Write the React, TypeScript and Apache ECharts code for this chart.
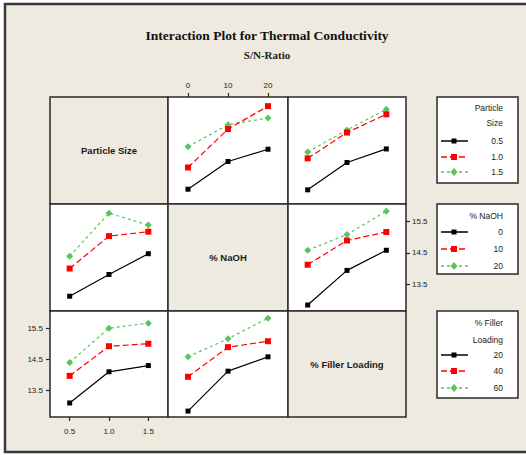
import React, { useEffect, useRef } from "react";
import * as echarts from "echarts";

// Factor levels
const PS_X = [0.5, 1.0, 1.5];
const NAOH_X = [0, 10, 20];
const FILLER_X = [20, 40, 60];
const Y_TICKS = [13.5, 14.5, 15.5];

const FACTOR_NAMES = ["Particle Size", "% NaOH", "% Filler Loading"];
const LEGEND_TITLES = [["Particle", "Size"], ["% NaOH"], ["% Filler", "Loading"]];

// Mean S/N ratios: rows = levels of first factor, cols = levels of second factor
const PS_NAOH = [
  [13.12, 14.0, 14.39],
  [13.81, 15.03, 15.76],
  [14.47, 15.17, 15.38],
];
const PS_FILLER = [
  [13.1, 13.97, 14.4],
  [14.1, 14.92, 15.5],
  [14.3, 15.0, 15.66],
];
const NAOH_FILLER = [
  [12.84, 13.94, 14.58],
  [14.12, 14.89, 15.16],
  [14.58, 15.08, 15.82],
];

const LEVELS = [PS_X, NAOH_X, FILLER_X];
const FMT = [(v: number) => v.toFixed(1), (v: number) => String(v), (v: number) => String(v)];
const X_RANGE = [
  [0.25, 1.75],
  [-5, 25],
  [10, 70],
];
const Y_MIN = 12.65;
const Y_MAX = 16.05;

const MEANS: Record<string, number[][]> = {
  "0-1": PS_NAOH,
  "0-2": PS_FILLER,
  "1-2": NAOH_FILLER,
};

const BEIGE = "#EEEAE0";
const DARK = "#2a2a2a";

const STYLES = [
  { color: "#000000", type: "solid" as any, symbol: "rect", size: 5, width: 1.2 },
  { color: "#FF0000", type: [6, 3] as any, symbol: "rect", size: 6, width: 1.2 },
  { color: "#5DC45D", type: [3, 3] as any, symbol: "diamond", size: 7, width: 1.2 },
];

const XE = [50, 168, 288, 406];
const YE = [97, 204, 311, 417];

function buildOption() {
  const grid: any[] = [];
  const xAxis: any[] = [];
  const yAxis: any[] = [];
  const series: any[] = [];
  const graphic: any[] = [];
  const font = "Liberation Sans";
  const tickStyle = { color: DARK, width: 1.2 };

  graphic.push({
    type: "rect",
    z: -10,
    shape: { x: 5, y: 4, width: 540, height: 448 },
    style: { fill: BEIGE, stroke: "#3a3a3a", lineWidth: 2.5 },
  });

  for (let r = 0; r < 3; r++) {
    for (let c = 0; c < 3; c++) {
      const g = r * 3 + c;
      const diag = r === c;
      grid.push({
        left: XE[c],
        top: YE[r],
        width: XE[c + 1] - XE[c],
        height: YE[r + 1] - YE[r],
        show: true,
        backgroundColor: diag ? BEIGE : "#ffffff",
        borderColor: DARK,
        borderWidth: 1.5,
      });
      const showX = !diag && ((r === 0 && c === 1) || (r === 2 && c !== 1));
      const showY = !diag && ((c === 0 && r !== 1) || (r === 1 && c === 2));
      const top = r === 0 && c === 1;
      xAxis.push({
        gridIndex: g,
        type: "value",
        min: X_RANGE[c][0],
        max: X_RANGE[c][1],
        position: top ? "top" : "bottom",
        show: !diag,
        axisLine: { show: false },
        splitLine: { show: false },
        axisTick: { show: showX, length: 4, customValues: LEVELS[c], lineStyle: tickStyle },
        axisLabel: {
          show: showX,
          customValues: LEVELS[c],
          formatter: (v: number) => FMT[c](v),
          margin: top ? 8 : 10,
          fontFamily: font,
          fontSize: 8,
          color: "#1a1a1a",
        },
      });
      const right = r === 1 && c === 2;
      yAxis.push({
        gridIndex: g,
        type: "value",
        min: Y_MIN,
        max: Y_MAX,
        position: right ? "right" : "left",
        show: !diag,
        axisLine: { show: false },
        splitLine: { show: false },
        axisTick: { show: showY, length: 4, customValues: Y_TICKS, lineStyle: tickStyle },
        axisLabel: {
          show: showY,
          customValues: Y_TICKS,
          formatter: (v: number) => v.toFixed(1),
          margin: right ? 6 : 7,
          fontFamily: font,
          fontSize: 8,
          color: "#1a1a1a",
        },
      });

      if (diag) {
        graphic.push({
          type: "text",
          x: (XE[c] + XE[c + 1]) / 2,
          y: (YE[r] + YE[r + 1]) / 2,
          z: 20,
          style: {
            text: FACTOR_NAMES[r],
            fontFamily: font,
            fontWeight: "bold",
            fontSize: 9.5,
            fill: "#1a1a1a",
            textAlign: "center",
            textVerticalAlign: "middle",
          },
        });
        continue;
      }

      for (let i = 0; i < 3; i++) {
        const data = LEVELS[c].map((x, j) => {
          const v = r < c ? MEANS[`${r}-${c}`][i][j] : MEANS[`${c}-${r}`][j][i];
          return [x, v];
        });
        const s = STYLES[i];
        series.push({
          type: "line",
          xAxisIndex: g,
          yAxisIndex: g,
          data,
          symbol: s.symbol,
          symbolSize: s.size,
          showSymbol: true,
          z: 5 - i,
          itemStyle: { color: s.color },
          lineStyle: { color: s.color, type: s.type, width: s.width },
          emphasis: { disabled: true },
        });
      }
    }
  }

  // Title
  graphic.push({
    type: "text",
    x: 267,
    y: 35,
    style: {
      text: "Interaction Plot for Thermal Conductivity",
      fontFamily: "Liberation Serif",
      fontWeight: "bold",
      fontSize: 13.5,
      fill: "#111111",
      textAlign: "center",
      textVerticalAlign: "middle",
    },
  });
  graphic.push({
    type: "text",
    x: 267,
    y: 55,
    style: {
      text: "S/N-Ratio",
      fontFamily: "Liberation Serif",
      fontWeight: "bold",
      fontSize: 11,
      fill: "#222222",
      textAlign: "center",
      textVerticalAlign: "middle",
    },
  });

  // Legends
  const boxes = [
    { top: 97, h: 86, titleY: [108, 123], itemY: [141, 157, 172] },
    { top: 204, h: 70, titleY: [216], itemY: [232, 249, 266] },
    { top: 311, h: 87, titleY: [323, 340], itemY: [355, 371, 388] },
  ];
  boxes.forEach((b, k) => {
    graphic.push({
      type: "rect",
      z: 10,
      shape: { x: 437, y: b.top, width: 81, height: b.h },
      style: { fill: "#ffffff", stroke: DARK, lineWidth: 1.5 },
    });
    LEGEND_TITLES[k].forEach((t, ti) => {
      graphic.push({
        type: "text",
        z: 11,
        x: 503,
        y: b.titleY[ti],
        style: {
          text: t,
          fontFamily: font,
          fontSize: 8.5,
          fill: "#222222",
          textAlign: "right",
          textVerticalAlign: "middle",
        },
      });
    });
    LEVELS[k].forEach((lv, i) => {
      const y = b.itemY[i];
      const s = STYLES[i];
      graphic.push({
        type: "line",
        z: 11,
        shape: { x1: 441, y1: y, x2: 468, y2: y },
        style: {
          stroke: s.color,
          lineWidth: 1.5,
          lineDash: Array.isArray(s.type) ? s.type : null,
        },
      });
      if (s.symbol === "rect") {
        const sz = i === 0 ? 5 : 6;
        graphic.push({
          type: "rect",
          z: 12,
          shape: { x: 454 - sz / 2, y: y - sz / 2, width: sz, height: sz },
          style: { fill: s.color },
        });
      } else {
        graphic.push({
          type: "polygon",
          z: 12,
          shape: { points: [[454, y - 4], [457.5, y], [454, y + 4], [450.5, y]] },
          style: { fill: s.color },
        });
      }
      graphic.push({
        type: "text",
        z: 11,
        x: 503,
        y,
        style: {
          text: FMT[k](lv),
          fontFamily: font,
          fontSize: 8.5,
          fill: "#222222",
          textAlign: "right",
          textVerticalAlign: "middle",
        },
      });
    });
  });

  return {
    animation: false,
    backgroundColor: "#ffffff",
    grid,
    xAxis,
    yAxis,
    series,
    graphic,
  };
}

export default function App() {
  const ref = useRef<HTMLDivElement>(null);
  useEffect(() => {
    if (!ref.current) return;
    const chart = echarts.init(ref.current, undefined, { renderer: "svg" });
    chart.setOption(buildOption() as any);
    return () => chart.dispose();
  }, []);
  return (
    <div
      ref={ref}
      style={{ position: "fixed", left: 0, top: 0, width: 526, height: 455 }}
    />
  );
}
